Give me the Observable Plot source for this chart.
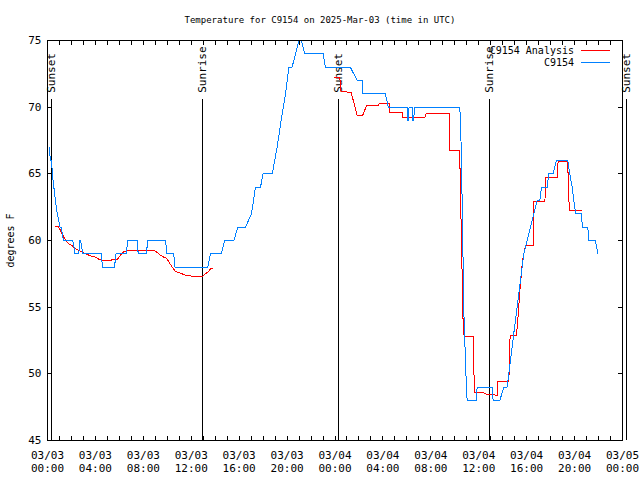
<!DOCTYPE html>
<html><head><meta charset="utf-8">
<script src="https://cdn.jsdelivr.net/npm/d3@7"></script>
<script src="https://cdn.jsdelivr.net/npm/@observablehq/plot@0.6"></script>
<style>
body{margin:0;background:#fff;font-family:"DejaVu Sans Mono",monospace;}
#title{height:30px;position:relative;}
#title span{position:absolute;left:0;right:0;top:14px;text-align:center;font-size:9px;line-height:12px;color:#000;}
svg{overflow:visible;}
svg path, svg line{shape-rendering:crispEdges;}
</style></head><body>
<div id="title"><span>Temperature for C9154 on 2025-Mar-03 (time in UTC)</span></div>
<div id="chart"></div>
<script>
// hours after 2025-03-03 00:00 UTC
const sunLabels = ["Sunset", "Sunrise", "Sunset", "Sunrise", "Sunset"];
const sunHours = [0.37, 12.97, 24.33, 36.93, 48.33];
const yTicks = [45, 50, 55, 60, 65, 70, 75];
const xMajorHours = [0, 4, 8, 12, 16, 20, 24, 28, 32, 36, 40, 44, 48];
const seriesNames = ["C9154 Analysis", "C9154"];
const seriesColors = ["#ff0000", "#0080ff"];

const blueHours = [0.19,0.22,0.35,0.40,0.53,0.66,0.82,1.05,1.15,1.33,2.11,2.20,2.30,2.62,2.67,2.76,2.85,2.95,4.48,4.60,5.59,5.72,6.59,6.68,7.49,7.57,8.26,8.36,9.85,9.98,10.54,10.64,13.38,13.60,14.50,14.80,15.55,15.90,16.53,17.03,17.20,17.36,17.78,18.00,18.76,19.17,19.50,19.87,20.15,20.42,20.98,21.20,21.48,23.01,23.20,25.28,25.85,26.27,26.33,28.21,28.45,30.02,30.05,30.15,30.18,30.45,30.48,30.58,30.62,34.42,34.50,34.58,34.64,34.70,34.75,34.81,34.87,34.93,35.00,35.03,35.78,35.87,37.12,37.20,37.76,38.09,38.37,38.51,38.65,38.79,38.92,39.06,39.20,39.34,39.48,39.62,39.76,40.04,40.32,40.60,40.88,41.10,41.24,41.71,41.85,42.21,42.49,43.43,43.60,43.80,43.93,44.10,44.57,44.65,45.10,45.20,45.74,45.94];
const blueTemps = [67,66,66,65,64,63,62,61,61,60,60,59.6,59,59,60,60,59.5,59,59,58,58,59,59,60,60,59,59,60,60,59,59,58,58,59,59,60,60,61,61,62,63,64,64,65,65,67,69,71,73,73,75,75,74,74,73,73,72,72,71,71,70,70,69,69,70,70,69,69,70,70,68.25,64.75,61.3,58,55,52.75,51.75,50,48.5,48,48,49,49,48,48,49,49,50,51,52,53,54,55,56,57,58,59,60,61,62,63,63,64,64,65,65,66,66,65,64,63,62,62,61,61,60,60,59];

const redHours = [0.67,0.89,1.09,1.36,1.59,1.78,2.06,2.20,2.48,2.75,3.03,3.31,3.59,4.01,4.28,4.56,5.26,5.40,5.82,6.09,6.37,6.65,8.88,9.16,9.43,9.71,9.90,10.13,10.41,10.68,10.96,11.38,11.66,12.21,12.91,13.05,13.33,13.45,13.66,13.80,
  18.0,
  23.96,24.40,24.50,25.35,25.85,26.32,26.63,27.66,27.67,28.57,28.58,29.60,29.61,31.50,31.60,33.58,33.60,34.42,34.44,34.52,34.60,34.66,34.73,34.78,35.53,35.58,35.64,36.37,36.70,37.54,37.55,38.51,38.62,39.15,39.30,39.45,39.65,39.90,40.54,40.58,41.52,41.60,42.55,42.62,43.43,43.50,43.60,44.55];
const redTemps = [61.07,61.05,60.75,60.25,59.9,59.75,59.6,59.5,59.3,59.2,59.05,58.95,58.85,58.75,58.6,58.5,58.5,58.57,58.57,58.9,59.15,59.25,59.25,59.1,58.9,58.75,58.7,58.4,58.0,57.67,57.6,57.45,57.35,57.33,57.3,57.4,57.6,57.7,57.9,57.9,
  null,
  72.2,72.2,71.2,71.1,69.4,69.4,70.1,70.1,70.25,70.25,69.6,69.6,69.2,69.2,69.5,69.5,66.75,66.75,65,61.6,58.1,54.6,53.4,52.8,52.8,50.75,48.6,48.6,48.45,48.4,49.4,49.4,52.9,52.9,54.5,56.4,58.5,59.6,59.6,62.9,62.9,64.7,64.7,65.9,65.9,63.2,62.25,62.25];

const T0 = Date.UTC(2025, 2, 3);
const toDate = h => new Date(T0 + h * 3600000);

const blue = blueHours.map((h, i) => ({t: toDate(h), v: blueTemps[i]}));
const red = redHours.map((h, i) => ({t: toDate(h), v: redTemps[i]}));
const sun = sunHours.map((h, i) => ({t: toDate(h), label: sunLabels[i]}));
const xMajor = xMajorHours.map(toDate);
const xHourly = d3.range(0, 49).map(toDate);
const lineTop = 70.55;

const chart = Plot.plot({
  width: 640,
  height: 450,
  marginLeft: 47,
  marginRight: 18,
  marginTop: 10,
  marginBottom: 40,
  x: {type: "utc", domain: [toDate(0), toDate(48)]},
  y: {domain: [45, 75]},
  style: {fontFamily: "DejaVu Sans Mono", fontSize: "11px", color: "#000", background: "#fff", overflow: "visible"},
  marks: [
    Plot.ruleX(sun, {x: "t", y1: 45, y2: lineTop, stroke: "#000", strokeWidth: 1}),
    Plot.text(sun, {x: "t", y: lineTop, text: "label", rotate: -90, textAnchor: "start", lineAnchor: "middle", dy: -7, fontSize: 11, fill: "#000"}),
    Plot.line(red, {x: "t", y: "v", stroke: seriesColors[0], strokeWidth: 1}),
    Plot.line(blue, {x: "t", y: "v", stroke: seriesColors[1], strokeWidth: 1}),
    Plot.frame({stroke: "#000"}),
    Plot.axisX(xMajor, {anchor: "bottom", tickSize: 0, tickPadding: 10, tickFormat: d3.utcFormat("%m/%d\n%H:%M"), fontSize: 11, lineHeight: 1.12, label: null}),
    Plot.axisX(xHourly, {anchor: "bottom", tickSize: -4, tickFormat: () => "", label: null}),
    Plot.axisX(xHourly, {anchor: "top", tickSize: -4, tickFormat: () => "", label: null}),
    Plot.axisY(yTicks, {anchor: "left", tickSize: 0, tickPadding: 6, fontSize: 11, label: null}),
    Plot.axisY(yTicks, {anchor: "left", tickSize: -5, tickFormat: () => "", label: null}),
    Plot.axisY(yTicks, {anchor: "right", tickSize: -5, tickFormat: () => "", label: null}),
    Plot.text(["degrees F"], {frameAnchor: "left", text: d => d, rotate: -90, dx: -37, textAnchor: "middle", fontSize: 10})
  ]
});
document.getElementById("chart").appendChild(chart);

// legend (top-right, inside frame)
const svg = d3.select(chart);
const lg = svg.append("g").attr("font-family", "DejaVu Sans Mono").attr("font-size", 10);
seriesNames.forEach((name, i) => {
  const y = 20 + i * 12.5;
  lg.append("text").attr("x", 574).attr("y", y).attr("text-anchor", "end").attr("dy", "0.35em").attr("fill", "#000").text(name);
  lg.append("line").attr("x1", 581).attr("x2", 610).attr("y1", y).attr("y2", y).attr("stroke", seriesColors[i]).attr("stroke-width", 1);
});
</script>
</body></html>
